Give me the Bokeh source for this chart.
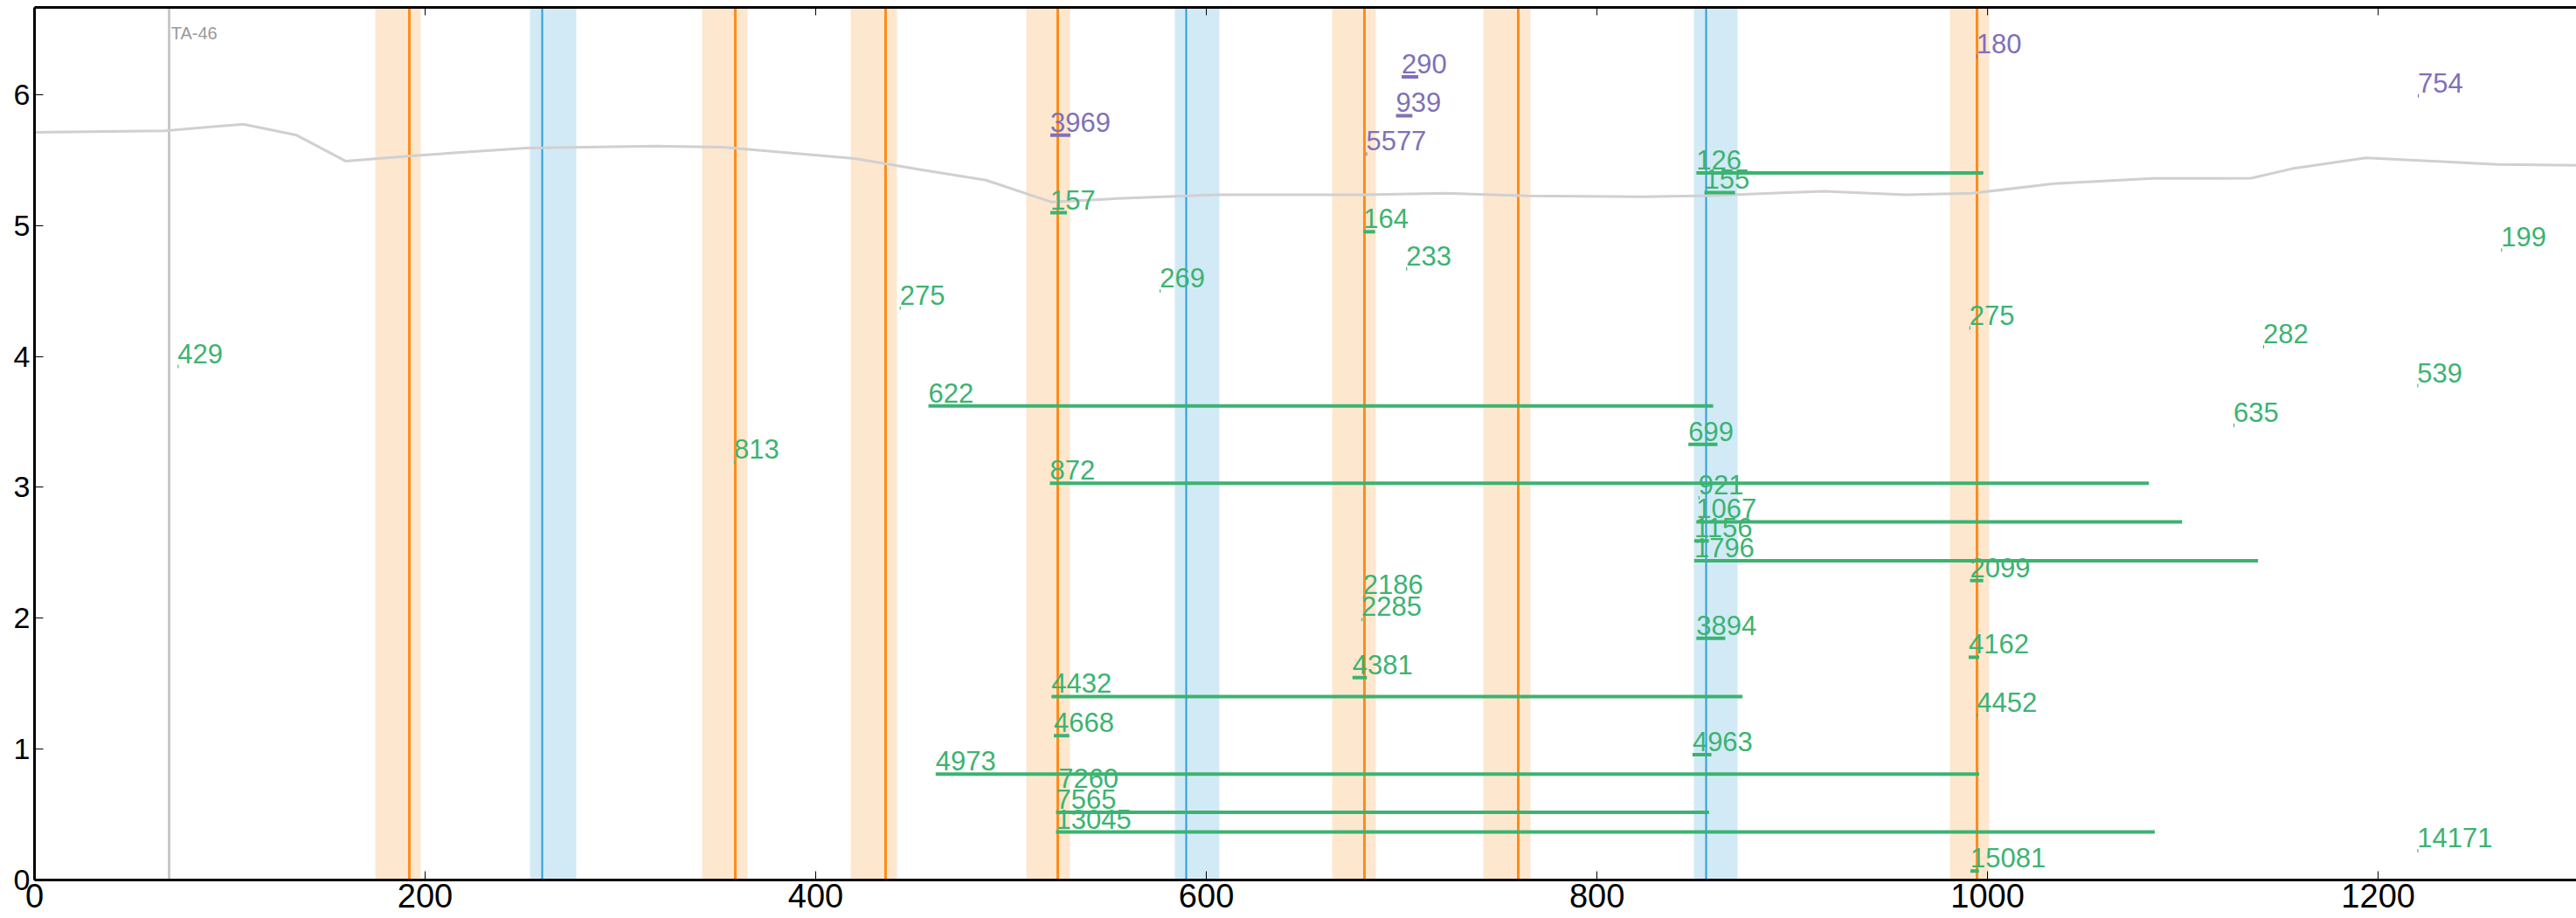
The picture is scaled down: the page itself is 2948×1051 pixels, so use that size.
import math
from bokeh.plotting import figure
from bokeh.models import ColumnDataSource, Range1d, LinearAxis, FixedTicker
from bokeh.core.properties import value
from bokeh.embed import file_html
from bokeh.resources import INLINE

# ---------------- data ----------------
x_ticks = [0, 200, 400, 600, 800, 1000, 1200]
y_ticks = [0, 1, 2, 3, 4, 5, 6]
x_max = 1301.5
y_max = 6.667

orange_lines = [192.0, 358.6, 435.7, 523.8, 680.9, 759.8, 994.6]
orange_band_left = [174.5, 341.8, 418.0, 507.8, 664.4, 741.8, 980.8]
orange_band_right = [197.8, 365.0, 441.8, 530.0, 686.6, 765.8, 1000.8]

blue_lines = [260.0, 589.7, 855.7]
blue_band_left = [253.7, 583.8, 849.5]
blue_band_right = [277.4, 606.9, 872.0]

marker_x = [69.0]
marker_label = ["TA-46"]
marker_label_y = [6.40]

profile_x = [0, 66.7, 107, 133.8, 159.3, 192.8, 251.9, 319, 352.6, 420, 453.7, 487.2,
             520.8, 554.4, 604.9, 680.5, 722.6, 764.7, 823.7, 857.3, 916.3, 957.9,
             992, 1034, 1084.6, 1135, 1156, 1193.7, 1227.7, 1261, 1301.6]
profile_y = [5.713, 5.725, 5.775, 5.693, 5.493, 5.533, 5.593, 5.607, 5.600, 5.513, 5.427, 5.347,
             5.180, 5.207, 5.235, 5.235, 5.247, 5.227, 5.220, 5.229, 5.262, 5.235,
             5.247, 5.320, 5.360, 5.362, 5.435, 5.518, 5.493, 5.467, 5.460]

green_labels = ["429", "813", "275", "622", "157", "269", "164", "233", "872", "126",
                "155", "699", "921", "1067", "1156", "1796", "275", "2099", "282", "635",
                "539", "199", "2186", "2285", "3894", "4162", "4381", "4432", "4668", "4452",
                "4963", "4973", "7260", "7565", "13045", "15081", "14171"]
green_start = [73.3, 358.1, 443.0, 457.7, 520.1, 576.1, 680.4, 702.3, 519.9, 850.9,
               855.0, 846.8, 852.0, 850.9, 849.8, 849.8, 990.7, 991.0, 1141.1, 1125.9,
               1220.0, 1262.9, 680.2, 679.4, 850.9, 990.3, 674.8, 520.7, 521.9, 994.5,
               848.9, 461.4, 524.2, 523.0, 523.0, 991.2, 1220.0]
green_end = [73.8, 358.6, 443.5, 859.5, 528.6, 576.6, 686.4, 702.8, 1082.6, 997.8,
             870.7, 861.7, 852.5, 1099.6, 857.3, 1138.5, 991.2, 997.8, 1141.6, 1126.4,
             1220.5, 1263.4, 680.7, 679.9, 865.7, 995.7, 682.2, 874.5, 529.8, 995.0,
             858.6, 995.7, 524.7, 857.4, 1085.6, 995.6, 1220.5]
green_y = [3.924, 3.191, 4.369, 3.622, 5.098, 4.502, 4.953, 4.670, 3.031, 5.403,
           5.253, 3.328, 2.920, 2.737, 2.591, 2.440, 4.217, 2.288, 4.074, 3.473,
           3.777, 4.813, 2.158, 1.991, 1.847, 1.702, 1.547, 1.402, 1.102, 1.258,
           0.958, 0.809, 0.680, 0.518, 0.367, 0.069, 0.223]

purple_labels = ["3969", "290", "939", "5577", "180", "754"]
purple_start = [520.1, 700.0, 697.1, 681.8, 994.3, 1220.3]
purple_end = [530.4, 708.5, 705.5, 682.3, 994.8, 1220.8]
purple_y = [5.691, 6.136, 5.840, 5.547, 6.291, 5.991]

# ---------------- styles ----------------
ORANGE = "#ff8c1a"
ORANGE_BAND = "#fde7cf"
BLUE = "#2a9ed8"
BLUE_BAND = "#d2eaf6"
GREEN = "#3cb371"
PURPLE = "#8070b8"
FONT = "Liberation Sans"

p = figure(width=2948, height=1051, output_backend="svg", toolbar_location=None,
           x_range=Range1d(0, x_max), y_range=Range1d(0, y_max),
           min_border_left=39, min_border_right=0, min_border_top=8, min_border_bottom=44)
p.outline_line_color = None
p.grid.visible = False
p.background_fill_color = "white"

# bands and lines
p.vstrip(x0=orange_band_left, x1=orange_band_right, fill_color=ORANGE_BAND, line_color=None)
p.vstrip(x0=blue_band_left, x1=blue_band_right, fill_color=BLUE_BAND, line_color=None)
p.vspan(x=orange_lines, line_color=ORANGE, line_width=3)
p.vspan(x=blue_lines, line_color=BLUE, line_width=2)
p.vspan(x=marker_x, line_color="#c8c8c8", line_width=3)
p.text(x=marker_x, y=marker_label_y, text=marker_label, text_color="#999999",
       text_font=value(FONT), text_font_size="20px", text_baseline="bottom",
       text_align="left", x_offset=2)

# profile curve
p.line(profile_x, profile_y, line_color="#d0d0d0", line_width=3)

# labelled segments
gsrc = ColumnDataSource(dict(x0=green_start, x1=green_end, y=green_y, t=green_labels))
psrc = ColumnDataSource(dict(x0=purple_start, x1=purple_end, y=purple_y, t=purple_labels))
for src, col in ((gsrc, GREEN), (psrc, PURPLE)):
    p.segment(x0="x0", y0="y", x1="x1", y1="y", source=src, line_color=col, line_width=4)
    p.text(x="x0", y="y", text="t", source=src, text_color=col, text_font=value(FONT),
           text_font_size="31px", text_baseline="bottom", text_align="left", y_offset=-4)

# axes
for ax in p.xaxis:
    ax.ticker = FixedTicker(ticks=x_ticks)
    ax.major_label_text_font = FONT
    ax.major_label_text_font_size = "38px"
    ax.major_label_text_color = "black"
    ax.major_tick_in = 10
    ax.major_tick_out = 0
    ax.minor_tick_in = 0
    ax.minor_tick_out = 0
    ax.axis_line_width = 3
    ax.major_label_standoff = 4
for ax in p.yaxis:
    ax.ticker = FixedTicker(ticks=y_ticks)
    ax.major_label_text_font = FONT
    ax.major_label_text_font_size = "34px"
    ax.major_label_text_color = "black"
    ax.major_tick_in = 10
    ax.major_tick_out = 0
    ax.minor_tick_in = 0
    ax.minor_tick_out = 0
    ax.axis_line_width = 3
    ax.major_label_standoff = 5

# top frame line (no labels) and inner top ticks
top = LinearAxis(ticker=FixedTicker(ticks=[]))
top.major_tick_in = 0
top.major_tick_out = 0
top.minor_tick_in = 0
top.minor_tick_out = 0
top.axis_line_width = 3
p.add_layout(top, "above")
p.scatter(x=x_ticks, y=[y_max] * len(x_ticks), marker="dash", angle=math.pi / 2,
          size=18, line_color="black", line_width=1)

open("out.html", "w").write(file_html(p, INLINE))
